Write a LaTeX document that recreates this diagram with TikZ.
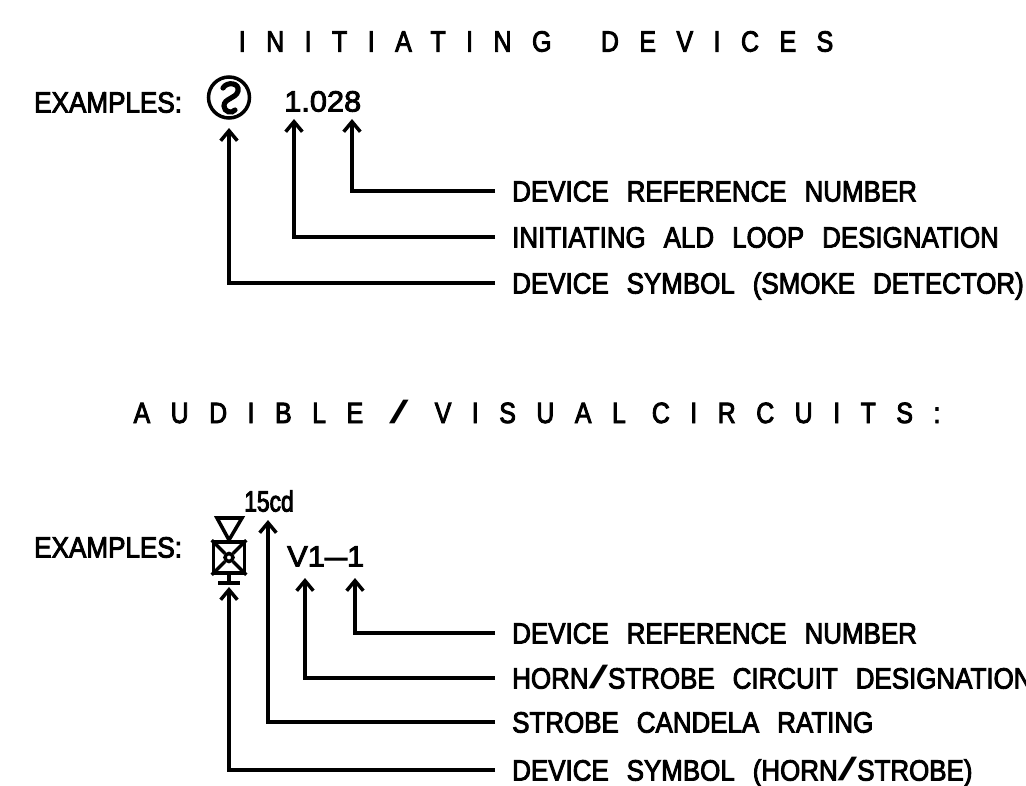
\documentclass[tikz,border=0pt]{standalone}
\usepackage{fontspec}
\setmainfont{Liberation Sans}
\newfontfamily\cadfont[FakeStretch=.885,FakeBold=3,WordSpace=2.5]{Liberation Sans}
\newfontfamily\tagfont[FakeStretch=.89,FakeBold=3]{Liberation Sans}
\newfontfamily\numfont[FakeStretch=1.05,FakeBold=3]{Liberation Sans}
\newfontfamily\candfont[FakeStretch=.78,FakeBold=3]{Liberation Sans}
\newfontfamily\headfont[FakeStretch=.85,FakeBold=3,LetterSpace=70,WordSpace=.95]{Liberation Sans}
\newcommand{\wideslash}{\scalebox{2.4}[1.1]{\rmfamily /}}
\usetikzlibrary{arrows.meta}
\definecolor{Ink}{HTML}{000000}
\tikzset{
  >={Straight Barb[length=3mm,width=5mm,line width=3pt]},
  lead/.style={->,line width=3pt,draw=Ink},
  symline/.style={line width=3pt,draw=Ink},
  lab/.style={font=\cadfont\fontsize{25}{28}\selectfont,anchor=west,inner ysep=0pt,inner xsep=5.1mm,text=Ink,text height=18pt,text depth=0pt},
  head/.style={font=\headfont\fontsize{25}{28}\selectfont,inner sep=0pt,text=Ink},
  tag/.style={font=\tagfont\fontsize{25}{28}\selectfont,inner sep=0pt,anchor=west,text=Ink,text height=18pt,text depth=0pt},
  numtag/.style={tag,font=\numfont\fontsize{25}{28}\selectfont},
  candtag/.style={tag,font=\candfont\fontsize{25}{28}\selectfont}
}
\begin{document}
\begin{tikzpicture}[x=.03cm,y=-.03cm]
  \useasboundingbox (0,0) rectangle (1026,786);
  \clip (0,0) rectangle (1026,786);

  \node[head] (inithead) at (536,41.5) {INITIATING\hspace{20pt} DEVICES};
  \node[tag] (initex) at (34,102) {EXAMPLES:};
  \node[numtag] (initnum) at (284,101) {1.028};
  \node[symline,circle,draw,minimum size=1.23cm,inner sep=0pt] (smoke) at (229,97.5) {};
  \draw[line width=4.4pt,line cap=round] (223,88) .. controls (227,81) and (240,83) .. (238,91)
    .. controls (236,99) and (224,98) .. (224,106) .. controls (224,112) and (232,114) .. (235,110);

  \coordinate (tipsmoke) at (229,128);
  \coordinate (tiploop) at (294,119);
  \coordinate (tipref) at (352,119);
  \node[lab] (refnum) at (495,191) {DEVICE REFERENCE NUMBER};
  \node[lab] (loopdes) at (495,237) {INITIATING ALD LOOP DESIGNATION};
  \node[lab] (symbdes) at (495,283) {DEVICE SYMBOL (SMOKE DETECTOR)};
  \draw[lead] (refnum.west) -| (tipref);
  \draw[lead] (loopdes.west) -| (tiploop);
  \draw[lead] (symbdes.west) -| (tipsmoke);

  \node[head] (avhead) at (537,411.5) {AUDIBLE \wideslash{} VISUAL CIRCUITS:};
  \node[tag] (avex) at (34,547) {EXAMPLES:};
  \node[numtag] (avnum) at (287,556) {V1\scalebox{1.3}[1]{–}1};
  \node[candtag] (cand) at (244,501) {15cd};

  \node[symline,draw,minimum size=.93cm,inner sep=0pt] (horn) at (229,557.5) {};
  \node[symline,circle,draw,minimum size=.24cm,inner sep=0pt,fill=white] (strobe) at (horn.center) {};
  \draw[symline] (horn.north west) -- (strobe);
  \draw[symline] (horn.north east) -- (strobe);
  \draw[symline] (horn.south west) -- (strobe);
  \draw[symline] (horn.south east) -- (strobe);
  \draw[symline] (217,518) -- (242,518) -- (229,540) -- cycle;
  \coordinate (stemend) at (229,583);
  \draw[symline] (horn.south) -- (stemend);
  \draw[symline] (218,583) -- (240,583);

  \coordinate (tiphorn) at (229,587);
  \coordinate (tipcand) at (268,520);
  \coordinate (tipcirc) at (305,578);
  \coordinate (tipnum) at (355,578);
  \node[lab] (hsref) at (495,633) {DEVICE REFERENCE NUMBER};
  \node[lab] (hscirc) at (495,678) {HORN\wideslash{}STROBE CIRCUIT DESIGNATION};
  \node[lab] (hscand) at (495,722) {STROBE CANDELA RATING};
  \node[lab] (hssymb) at (495,770) {DEVICE SYMBOL (HORN\wideslash{}STROBE)};
  \draw[lead] (hsref.west) -| (tipnum);
  \draw[lead] (hscirc.west) -| (tipcirc);
  \draw[lead] (hscand.west) -| (tipcand);
  \draw[lead] (hssymb.west) -| (tiphorn);
\end{tikzpicture}
\end{document}
